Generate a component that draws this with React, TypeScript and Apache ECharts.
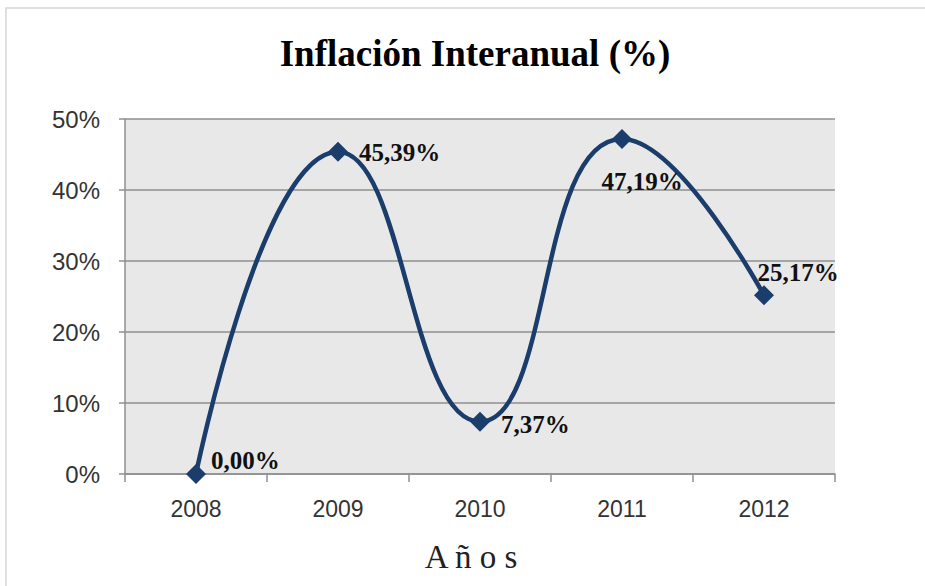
import React, { useEffect, useRef } from "react";
import * as echarts from "echarts";

const years = ["2008", "2009", "2010", "2011", "2012"];
const inflation = [0.0, 45.39, 7.37, 47.19, 25.17];
const yTicks = { min: 0, max: 50, interval: 10 };
const titleText = "Inflación Interanual (%)";
const xName = "A ñ o s";

const labelPlacement: any[] = [
  { position: "right", offset: [0, -14] },
  { position: "right", offset: [6, 1] },
  { position: "right", offset: [6, 3] },
  { position: "bottom", offset: [20, 15] },
  { position: "top", offset: [34, 5] },
];

export default function App() {
  const ref = useRef<HTMLDivElement>(null);
  useEffect(() => {
    if (!ref.current) return;
    const chart = echarts.init(ref.current, undefined, { renderer: "svg" });
    chart.setOption({
      animation: false,
      backgroundColor: "#ffffff",
      title: {
        text: titleText,
        left: 470,
        top: 30,
        textAlign: "center",
        textStyle: {
          fontFamily: "Liberation Serif",
          fontWeight: "bold",
          fontSize: 37,
          color: "#000000",
        },
      },
      graphic: [
        {
          type: "rect",
          shape: { x: 6, y: 8, width: 950, height: 620 },
          style: { fill: "none", stroke: "#d6d6d6", lineWidth: 1.5 },
          silent: true,
        },
      ],
      grid: {
        left: 125,
        right: 90,
        top: 119,
        bottom: 112,
        show: true,
        backgroundColor: "#e8e8e8",
        borderWidth: 0,
      },
      xAxis: {
        type: "category",
        data: years,
        boundaryGap: true,
        name: xName,
        nameLocation: "middle",
        nameGap: 66,
        nameTextStyle: {
          fontFamily: "Liberation Serif",
          fontSize: 33,
          color: "#222222",
          padding: [0, 18, 0, 0],
        },
        axisLine: { show: true, lineStyle: { color: "#8f8f8f", width: 1.5 } },
        axisTick: { show: true, length: 8, lineStyle: { color: "#8f8f8f", width: 1.5 } },
        axisLabel: {
          margin: 23,
          fontFamily: "Liberation Sans, sans-serif",
          fontSize: 23,
          color: "#333333",
        },
      },
      yAxis: {
        type: "value",
        min: yTicks.min,
        max: yTicks.max,
        interval: yTicks.interval,
        axisLine: { show: true, lineStyle: { color: "#8f8f8f", width: 1.5 } },
        axisTick: { show: true, length: 6, lineStyle: { color: "#8f8f8f", width: 1.5 } },
        splitLine: { show: true, lineStyle: { color: "#8f8f8f", width: 1.5 } },
        axisLabel: {
          margin: 25,
          formatter: (v: number) => `${v}%`,
          fontFamily: "Liberation Sans, sans-serif",
          fontSize: 24,
          color: "#333333",
        },
      },
      series: [
        {
          type: "line",
          smooth: 0.5,
          data: inflation.map((v, i) => ({
            value: v,
            label: labelPlacement[i],
          })),
          lineStyle: { color: "#1b3d6c", width: 4.5 },
          itemStyle: { color: "#1b3d6c" },
          symbol: "diamond",
          symbolSize: 20,
          label: {
            show: true,
            formatter: (p: any) => p.value.toFixed(2).replace(".", ",") + "%",
            fontFamily: "Liberation Serif",
            fontWeight: "bold",
            fontSize: 25,
            color: "#111111",
          },
        },
      ],
    });
    return () => chart.dispose();
  }, []);
  return (
    <div
      ref={ref}
      style={{ position: "fixed", left: 0, top: 0, width: 925, height: 586 }}
    />
  );
}
